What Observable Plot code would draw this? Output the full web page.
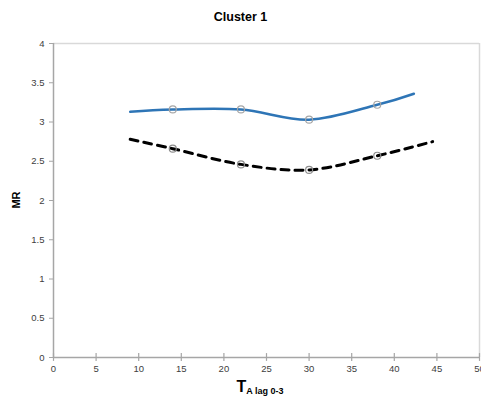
<!DOCTYPE html>
<html>
<head>
<meta charset="utf-8">
<script src="https://cdn.jsdelivr.net/npm/d3@7"></script>
<script src="https://cdn.jsdelivr.net/npm/@observablehq/plot@0.6"></script>
<style>
  body { margin: 0; background: #fff; font-family: "Liberation Sans", Arial, sans-serif; }
  #title { height: 30px; line-height: 34px; text-align: center; font-weight: bold; font-size: 12.5px; color: #000; }
  #chart svg { display: block; }
</style>
</head>
<body>
<div id="title">Cluster 1</div>
<div id="chart"></div>
<script>
// Blue solid series
const blueX = [9, 14, 22, 30, 38, 42.3];
const blueY = [3.13, 3.16, 3.16, 3.03, 3.22, 3.36];
// Black dashed series
const blackX = [9, 14, 22, 30, 38, 44.5];
const blackY = [2.78, 2.66, 2.46, 2.39, 2.57, 2.75];
// Marker positions
const markX = [14, 22, 30, 38];
const blueMarkY = [3.16, 3.16, 3.03, 3.22];
const blackMarkY = [2.66, 2.46, 2.39, 2.57];
// Ticks
const xTicks = [0, 5, 10, 15, 20, 25, 30, 35, 40, 45, 50];
const yTicks = [0, 0.5, 1, 1.5, 2, 2.5, 3, 3.5, 4];

const blue = blueX.map((x, i) => ({x, y: blueY[i]}));
const black = blackX.map((x, i) => ({x, y: blackY[i]}));
const blueM = markX.map((x, i) => ({x, y: blueMarkY[i]}));
const blackM = markX.map((x, i) => ({x, y: blackMarkY[i]}));

const W = 481, H = 373;
const chart = Plot.plot({
  width: W, height: H,
  marginTop: 13, marginBottom: 46, marginLeft: 53, marginRight: 2,
  style: {fontFamily: "Liberation Sans, Arial, sans-serif", fontSize: "9.5px", color: "#595959", background: "#fff"},
  x: {domain: [0, 50], ticks: xTicks, label: null},
  y: {domain: [0, 4], ticks: yTicks, label: null},
  marks: [
    Plot.ruleY([4], {stroke: "#d9d9d9", strokeWidth: 1.5}),
    Plot.ruleX([50], {stroke: "#d9d9d9", strokeWidth: 1.5}),
    Plot.ruleY([0], {stroke: "#a6a6a6", strokeWidth: 1.5}),
    Plot.ruleX([0], {stroke: "#a6a6a6", strokeWidth: 1.5}),
    Plot.axisY({ticks: yTicks, tickSize: 4, tickPadding: 5, stroke: "#a6a6a6", fill: "#404040", tickFormat: d => String(d)}),
    Plot.ruleX(xTicks, {x: d => d, y1: -0.05, y2: 0.05, stroke: "#a6a6a6", strokeWidth: 1.2}),
    Plot.axisX({ticks: xTicks, tickSize: 0, tickPadding: 8, fill: "#404040", tickFormat: d => String(d)}),
    Plot.line(blue, {x: "x", y: "y", curve: "cardinal", stroke: "#2e75b6", strokeWidth: 2.5}),
    Plot.line(black, {x: "x", y: "y", curve: "cardinal", stroke: "#000", strokeWidth: 3, strokeDasharray: "8,6"}),
    Plot.dot(blueM, {x: "x", y: "y", r: 3.5, stroke: "#a6a6a6", fill: "none", strokeWidth: 1.2}),
    Plot.dot(blackM, {x: "x", y: "y", r: 3.5, stroke: "#8c8c8c", fill: "none", strokeWidth: 1.2})
  ]
});
document.getElementById("chart").appendChild(chart);

const svg = d3.select(chart);
// y axis label
svg.append("text")
  .attr("transform", "translate(20,170) rotate(-90)")
  .attr("text-anchor", "middle")
  .attr("font-family", "Liberation Sans, Arial, sans-serif")
  .attr("font-weight", "bold").attr("font-size", 11).attr("fill", "#000")
  .text("MR");
// x axis label with subscript
const xl = svg.append("text")
  .attr("x", 260).attr("y", 362)
  .attr("text-anchor", "middle")
  .attr("font-family", "Liberation Sans, Arial, sans-serif")
  .attr("font-weight", "bold").attr("fill", "#000");
xl.append("tspan").attr("font-size", 16).text("T");
xl.append("tspan").attr("font-size", 9).attr("dy", 2).text("A lag 0-3");
</script>
</body>
</html>
